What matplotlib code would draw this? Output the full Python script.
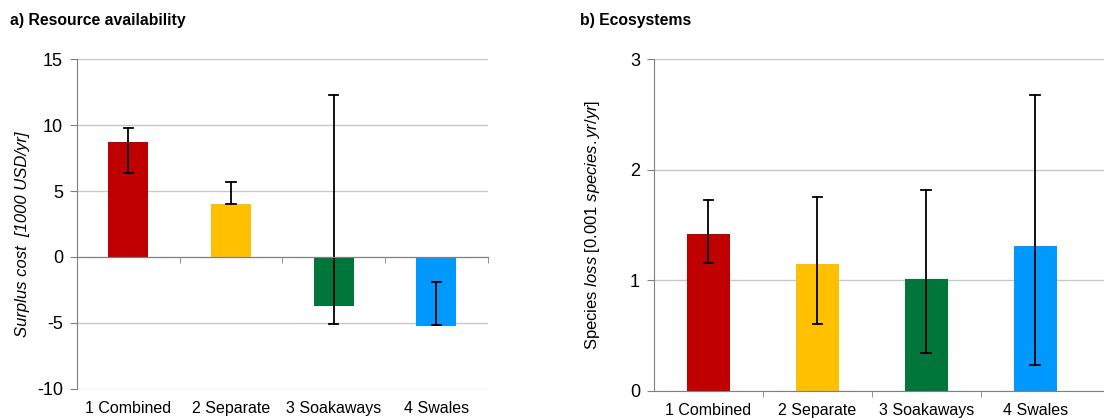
import numpy as np
import matplotlib.pyplot as plt

plt.rcParams['font.family'] = ['Liberation Sans', 'DejaVu Sans']
plt.rcParams['mathtext.fontset'] = 'custom'
plt.rcParams['mathtext.rm'] = 'Liberation Sans'
plt.rcParams['mathtext.it'] = 'Liberation Sans:italic'
plt.rcParams['axes.unicode_minus'] = False

categories = ['1 Combined', '2 Separate', '3 Soakaways', '4 Swales']
colors = ['#C00000', '#FFC000', '#00763A', '#0099FF']

# a) surplus cost [1000 USD/yr]
cost = [8.75, 4.0, -3.7, -5.25]
cost_lo = [6.35, 4.05, -5.05, -5.2]
cost_hi = [9.8, 5.7, 12.3, -1.9]

# b) species loss [0.001 species.yr/yr]
loss = [1.42, 1.15, 1.01, 1.31]
loss_lo = [1.16, 0.6, 0.34, 0.23]
loss_hi = [1.73, 1.75, 1.82, 2.68]

fig = plt.figure(figsize=(11.04, 4.18), dpi=100)
ax1 = fig.add_axes([0.0697, 0.070, 0.372, 0.788])
ax2 = fig.add_axes([0.5924, 0.0653, 0.4076, 0.7927])

x = np.arange(len(categories))


def draw(ax, vals, lo, hi, width, bounds):
    ax.bar(x, vals, width=width, color=colors, zorder=2)
    # error bars drawn from low to high
    for xi, l, h in zip(x, lo, hi):
        ax.plot([xi, xi], [l, h], color='black', lw=1.3, zorder=3)
        ax.plot([xi - 0.045, xi + 0.045], [l, l], color='black', lw=1.3, zorder=3)
        ax.plot([xi - 0.045, xi + 0.045], [h, h], color='black', lw=1.3, zorder=3)
    ax.yaxis.grid(True, color='#c8c8c8', lw=1.0, zorder=0)
    ax.set_axisbelow(True)
    for s in ['top', 'right']:
        ax.spines[s].set_visible(False)
    ax.spines['left'].set_color('#808080')
    ax.spines['bottom'].set_color('#808080')
    ax.spines['bottom'].set_position(('data', 0))
    ax.spines['bottom'].set_zorder(4)
    ax.set_xticks(x)
    ax.set_xticklabels([])
    ax.tick_params(axis='x', which='major', length=0)
    ax.set_xticks(bounds, minor=True)
    ax.tick_params(axis='x', which='minor', length=4, color='#808080', direction='out')
    ax.tick_params(axis='y', length=5, color='#808080', labelsize=13, pad=5)
    sec = ax.secondary_xaxis(0)
    sec.set_xticks(x)
    sec.set_xticklabels(categories, fontsize=11.5)
    sec.tick_params(length=0, pad=9)
    sec.spines['bottom'].set_visible(False)


draw(ax1, cost, cost_lo, cost_hi, 0.39, [0.5, 1.5, 2.5, 3.5])
ax1.set_xlim(-0.5, 3.5)
ax1.set_ylim(-10, 15)
ax1.set_yticks([-10, -5, 0, 5, 10, 15])
ax1.set_ylabel('Surplus cost  [1000 USD/yr]', style='italic', fontsize=12)
ax1.yaxis.set_label_coords(-0.115, 0.47)

draw(ax2, loss, loss_lo, loss_hi, 0.4, [0.5, 1.5, 2.5])
ax2.set_xlim(-0.5, 3.63)
ax2.set_ylim(0, 3)
ax2.set_yticks([0, 1, 2, 3])
ax2.set_ylabel(r'Species $\it{loss\ [0.001\ species.yr/yr]}$', fontsize=12)
ax2.yaxis.set_label_coords(-0.116, 0.5)

fig.text(0.009, 0.94, 'a) Resource availability', fontsize=11.3, fontweight='bold')
fig.text(0.525, 0.94, 'b) Ecosystems', fontsize=11.3, fontweight='bold')

fig.savefig('out.png', dpi=100)
